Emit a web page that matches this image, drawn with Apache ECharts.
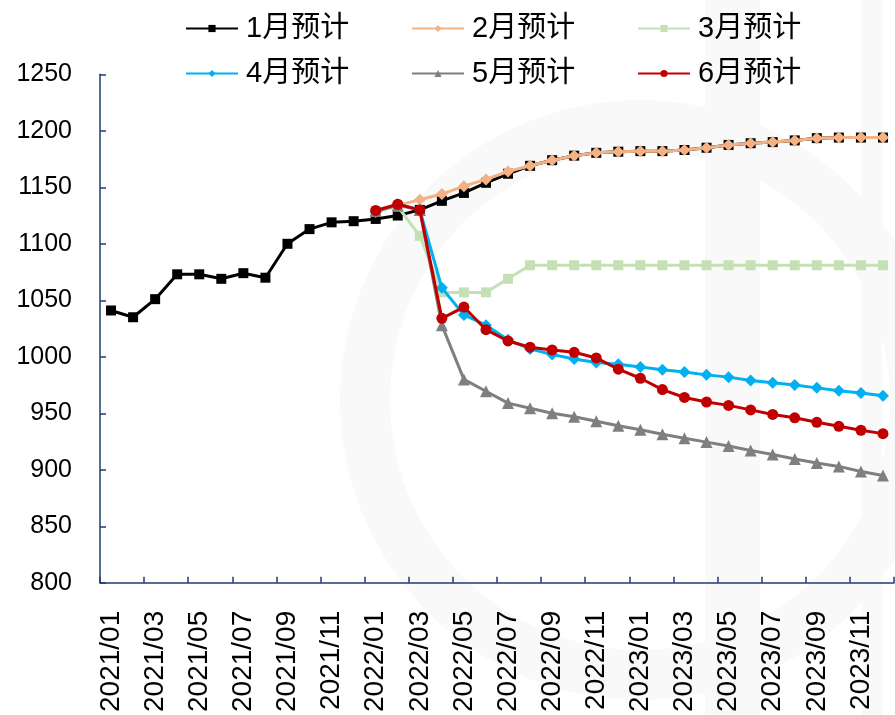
<!DOCTYPE html>
<html>
<head>
<meta charset="utf-8">
<script src="https://cdn.jsdelivr.net/npm/echarts@6/dist/echarts.min.js"></script>
<style>
  html, body { margin: 0; padding: 0; background: #ffffff; }
  #chart { width: 895px; height: 715px; }
</style>
</head>
<body>
<div id="chart"></div>
<script>
// Monthly categories 2021/01 .. 2023/12
const months = [
  '2021/01','2021/02','2021/03','2021/04','2021/05','2021/06','2021/07','2021/08','2021/09','2021/10','2021/11','2021/12',
  '2022/01','2022/02','2022/03','2022/04','2022/05','2022/06','2022/07','2022/08','2022/09','2022/10','2022/11','2022/12',
  '2023/01','2023/02','2023/03','2023/04','2023/05','2023/06','2023/07','2023/08','2023/09','2023/10','2023/11','2023/12'
];

const seriesNames = ['1月预计', '2月预计', '3月预计', '4月预计', '5月预计', '6月预计'];

const jan = [1041, 1035, 1051, 1073, 1073, 1069, 1074, 1070, 1100, 1113, 1119, 1120,
  1122, 1125, 1130, 1138, 1145, 1154, 1162, 1169, 1174, 1178, 1180.5, 1181.5,
  1182, 1182, 1183, 1185, 1187.5, 1189, 1190, 1191.5, 1193.5, 1194, 1194, 1194];

const feb = [null, null, null, null, null, null, null, null, null, null, null, null,
  1129, 1134, 1139, 1144, 1151, 1157, 1164, 1169, 1174, 1178, 1180.5, 1181.5,
  1182, 1182, 1183, 1185, 1187.5, 1189, 1190, 1191.5, 1193.5, 1194, 1194, 1194];

const mar = [null, null, null, null, null, null, null, null, null, null, null, null,
  1129, 1133, 1107, 1057, 1057, 1057, 1069, 1081, 1081, 1081, 1081, 1081,
  1081, 1081, 1081, 1081, 1081, 1081, 1081, 1081, 1081, 1081, 1081, 1081];

const apr = [null, null, null, null, null, null, null, null, null, null, null, null,
  1128, 1135, 1130, 1061, 1037, 1028, 1015, 1007, 1002, 998, 995, 993.5,
  991, 988.5, 986.5, 984, 982, 979, 977, 975, 972.5, 970, 968, 965.5];

const may = [null, null, null, null, null, null, null, null, null, null, null, null,
  1129, 1134, 1130, 1028, 980, 969.5, 959, 954.5, 950, 947, 943, 939,
  935.5, 931.5, 928, 924.5, 921, 917, 913.5, 909.5, 906, 903, 898.5, 895];

const jun = [null, null, null, null, null, null, null, null, null, null, null, null,
  1129.5, 1135, 1130, 1034, 1044, 1024, 1014, 1008.5, 1006, 1004, 999, 989,
  981, 971, 964, 960, 957, 953, 949, 946, 942, 938.5, 935, 932];

const seriesData = [jan, feb, mar, apr, may, jun];
const colors = ['#000000', '#F4B183', '#C5E0B4', '#00B0F0', '#7F7F7F', '#C00000'];
const symbols = ['rect', 'diamond', 'rect', 'diamond', 'triangle', 'circle'];
const symbolSizes = [10, 12, 10, 12, 12, 11];

const axisColor = '#1F3B73';
const numFont = '"Liberation Sans", Arial, sans-serif';
const cjkFont = '"Liberation Sans", "Noto Sans CJK SC", sans-serif';

const chart = echarts.init(document.getElementById('chart'), null, { renderer: 'canvas' });

// one legend block per item so the two rows of three line up in columns
const legendLeft = [185, 411, 637];
const legendTop = [14, 59];
const legends = seriesNames.map((name, i) => ({
  data: [name],
  left: legendLeft[i % 3],
  top: legendTop[Math.floor(i / 3)],
  padding: 0,
  itemWidth: 52,
  itemHeight: 9,
  itemGap: 0,
  textStyle: { fontSize: 29, color: '#000', fontFamily: cjkFont, padding: [0, 0, 0, 3] },
  selectedMode: false
}));

chart.setOption({
  animation: false,
  backgroundColor: '#ffffff',
  graphic: [
    // faint background emblem
    { type: 'ring', z: -10, silent: true,
      shape: { cx: 640, cy: 400, r: 300, r0: 250 },
      style: { fill: '#f9f9f9' } },
    { type: 'rect', z: -10, silent: true,
      shape: { x: 705, y: 0, width: 55, height: 715 },
      style: { fill: '#f9f9f9' } },
    { type: 'rect', z: -10, silent: true,
      shape: { x: 862, y: 0, width: 20, height: 715 },
      style: { fill: '#f9f9f9' } }
  ],
  legend: legends,
  grid: { left: 100, right: 1, top: 74.3, bottom: 131.7, containLabel: false },
  xAxis: {
    type: 'category',
    data: months,
    boundaryGap: true,
    axisLine: { show: true, lineStyle: { color: axisColor, width: 1.5 } },
    axisTick: { show: true, inside: true, length: 6, interval: 1, lineStyle: { color: axisColor, width: 1.5 } },
    axisLabel: { interval: 1, rotate: 90, margin: 28, fontSize: 28, color: '#000', fontFamily: numFont },
    splitLine: { show: false }
  },
  yAxis: {
    type: 'value',
    min: 800,
    max: 1250,
    interval: 50,
    axisLine: { show: true, lineStyle: { color: axisColor, width: 1.5 } },
    axisTick: { show: true, inside: true, length: 6, lineStyle: { color: axisColor, width: 1.5 } },
    axisLabel: { margin: 28, fontSize: 25, color: '#000', fontFamily: numFont,
      formatter: (v) => String(v) },
    splitLine: { show: false }
  },
  series: seriesNames.map((name, i) => ({
    name: name,
    type: 'line',
    data: seriesData[i],
    color: colors[i],
    symbol: symbols[i],
    symbolSize: symbolSizes[i],
    showAllSymbol: true,
    connectNulls: false,
    lineStyle: { width: 3, color: colors[i] },
    itemStyle: { color: colors[i] },
    z: 2 + i
  }))
});
</script>
</body>
</html>
